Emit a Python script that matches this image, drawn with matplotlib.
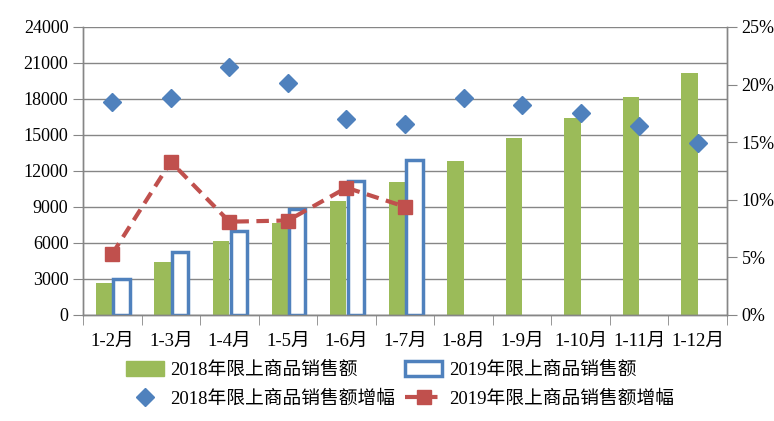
import matplotlib
matplotlib.use("Agg")
import matplotlib.pyplot as plt
from matplotlib.lines import Line2D
from matplotlib.patches import Patch
import numpy as np

plt.rcParams['font.family'] = ['Liberation Serif', 'Noto Sans CJK SC', 'DejaVu Sans']

categories = ['1-2月', '1-3月', '1-4月', '1-5月', '1-6月', '1-7月', '1-8月', '1-9月', '1-10月', '1-11月', '1-12月']
sales_2018 = [2690, 4420, 6190, 7690, 9520, 11080, 12830, 14780, 16440, 18170, 20190]
sales_2019 = [3020, 5270, 7020, 8860, 11170, 12920]
growth_2018 = [18.5, 18.8, 21.5, 20.1, 17.0, 16.6, 18.8, 18.2, 17.5, 16.4, 14.9]
growth_2019 = [5.3, 13.3, 8.1, 8.2, 11.05, 9.4]
left_ticks = [0, 3000, 6000, 9000, 12000, 15000, 18000, 21000, 24000]
right_ticks = [0, 5, 10, 15, 20, 25]

green = '#9BBB59'
blue = '#4F81BD'
red = '#C0504D'
gray = '#868686'

fig = plt.figure(figsize=(7.74, 4.21), dpi=100)
ax = fig.add_axes([0.1072, 0.2518, 0.9393 - 0.1072, 0.9359 - 0.2518])
ax2 = ax.twinx()

x = np.arange(len(categories))
w = 0.28
ax.bar(x - w / 2, sales_2018, width=w, color=green, zorder=2)
x19 = np.arange(len(sales_2019))
ax.bar(x19 + w / 2 + 0.02, sales_2019, width=w, facecolor='white', edgecolor=blue, linewidth=2.5, zorder=3)

ax.set_xlim(-0.5, len(categories) - 0.5)
ax.set_ylim(0, 24000)
ax.set_yticks(left_ticks)
ax.set_yticklabels([str(t) for t in left_ticks])
ax.yaxis.grid(True, color=gray, linewidth=1)
ax.set_axisbelow(True)
ax.set_xticks(x)
ax.set_xticklabels(categories)
ax.set_xticks(np.arange(len(categories) + 1) - 0.5, minor=True)
ax.tick_params(axis='x', which='major', length=0, pad=13, labelsize=13.5)
ax.tick_params(axis='x', which='minor', length=7, color=gray, direction='out')
ax.tick_params(axis='y', length=7, color=gray, direction='out', labelsize=13, pad=3.5)

ax2.plot(x, growth_2018, linestyle='none', marker='D', markersize=9, color=blue, zorder=4)
ax2.plot(x19, growth_2019, linestyle=(0, (3, 1.8)), linewidth=3, marker='s', markersize=10, color=red, zorder=5)
ax2.set_ylim(0, 25)
ax2.set_yticks(right_ticks)
ax2.set_yticklabels([f'{t}%' for t in right_ticks])
ax2.tick_params(axis='y', length=7, color=gray, direction='out', labelsize=13, pad=3.5)

for a in (ax, ax2):
    a.spines['top'].set_visible(False)
    for s in ('left', 'right', 'bottom'):
        a.spines[s].set_color(gray)
        a.spines[s].set_linewidth(1)

handles = [
    Patch(facecolor=green, edgecolor=green),
    Patch(facecolor='white', edgecolor=blue, linewidth=2.5),
    Line2D([], [], linestyle='none', marker='D', markersize=9, color=blue),
    Line2D([], [], linestyle=(0, (3, 1.8)), linewidth=3, marker='s', markersize=10, color=red),
]
labels = ['2018年限上商品销售额', '2019年限上商品销售额', '2018年限上商品销售额增幅', '2019年限上商品销售额增幅']
order = [0, 2, 1, 3]
fig.legend([handles[i] for i in order], [labels[i] for i in order], ncol=2,
           loc='center', bbox_to_anchor=(0.517, 0.086), frameon=False, fontsize=13.5,
           handlelength=2.0, handleheight=0.8, handletextpad=0.35, columnspacing=0.5,
           labelspacing=0.6, borderpad=0.2)

fig.savefig('out.png', dpi=100)
